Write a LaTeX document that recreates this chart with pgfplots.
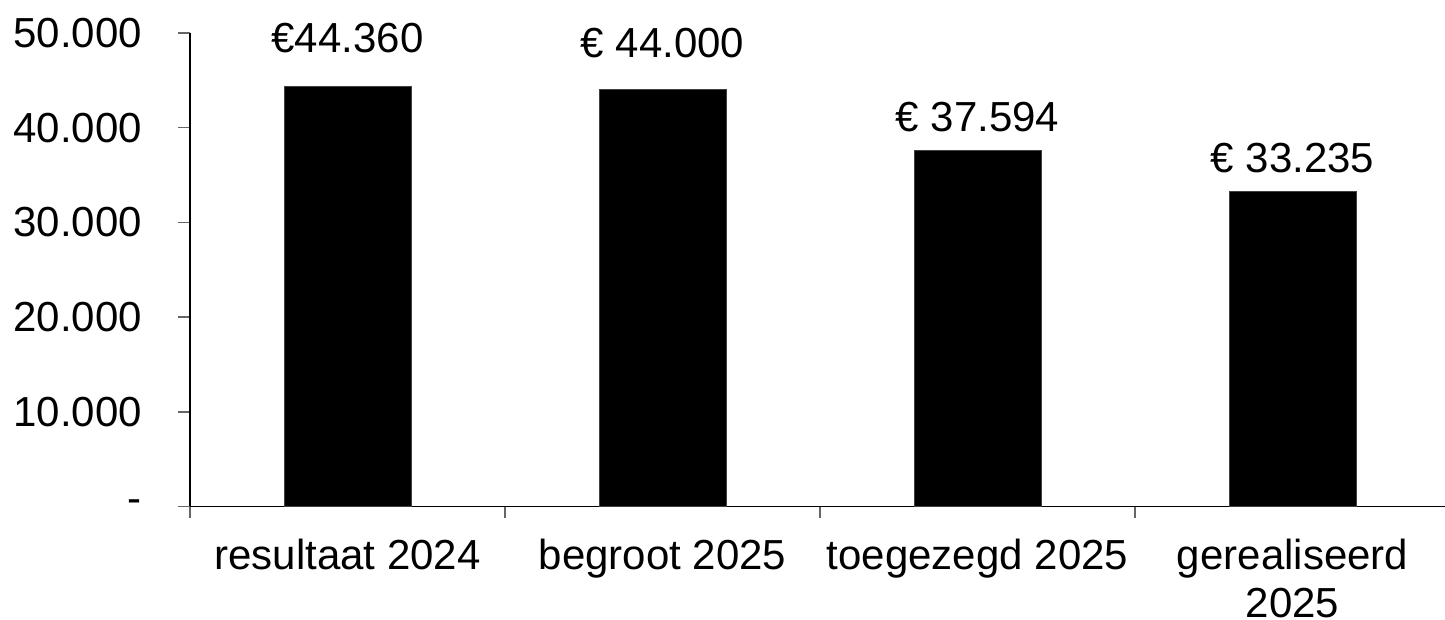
\documentclass[border=0pt]{standalone}
\usepackage{fontspec}
\setmainfont{Liberation Sans}
\usepackage{pgfplots}
\usepackage{pgfplotstable}
\pgfplotsset{compat=1.18}
\pgfplotstableread{
x y dy label
0 44360 13 {€44.360}
1 44000 12.5 {€ 44.000}
2 37594 5.5 {€ 37.594}
3 33235 6 {€ 33.235}
}\datatable
\begin{document}
\begin{tikzpicture}[font=\fontsize{21}{24}\selectfont]
\begin{axis}[
  scale only axis,
  width=627.5pt, height=236.75pt,
  xmin=-0.5, xmax=3.484,
  ymin=0, ymax=50000,
  scaled y ticks=false,
  axis x line*=bottom, axis y line*=left,
  axis line style={black, line width=0.75pt},
  tick align=outside,
  major tick length=6pt, minor tick length=6pt,
  xtick={0,1,2,3},
  xticklabels={resultaat 2024, begroot 2025, toegezegd 2025, {gerealiseerd\\2025}},
  minor xtick={-0.5,0.5,1.5,2.5},
  major x tick style={draw=none},
  minor x tick style={black!60, line width=0.75pt},
  ytick={0,10000,20000,30000,40000,50000},
  yticklabels={-,10.000,20.000,30.000,40.000,50.000},
  y tick style={black!60, line width=0.75pt},
  tick label style={font=\fontsize{21}{24}\selectfont},
  xticklabel style={align=center, yshift=-7pt},
  yticklabel style={xshift=-14.5pt},
  clip=false,
  ybar, bar width=63.5pt,
  nodes near coords,
  point meta=explicit symbolic,
  visualization depends on={\thisrow{dy} \as \labeldy},
  every node near coord/.append style={font=\fontsize{21}{24}\selectfont, yshift=\labeldy pt, black},
]
\addplot[fill=black, draw=black!75, line width=0.5pt] table[x=x, y=y, meta=label] {\datatable};
\end{axis}
\pgfresetboundingbox
\useasboundingbox (-95pt,-56.75pt) rectangle (627.5pt,253.25pt);
\end{tikzpicture}
\end{document}
